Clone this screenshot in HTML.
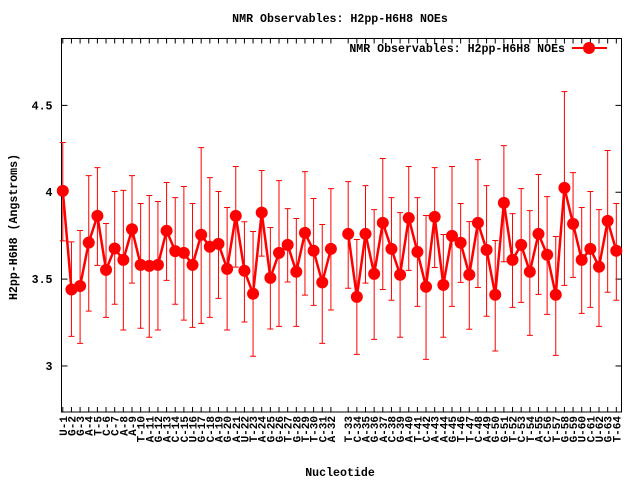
<!DOCTYPE html>
<html><head><meta charset="utf-8"><style>
html,body{margin:0;padding:0;background:#fff;}
svg text{font-family:"Liberation Mono",monospace;font-weight:bold;font-size:11.6px;fill:#000;}
</style></head><body>
<svg id="chart" width="640" height="480" xmlns="http://www.w3.org/2000/svg">
<rect x="0" y="0" width="640" height="480" fill="#fff"/>
<text x="340" y="22" text-anchor="middle">NMR Observables: H2pp-H6H8 NOEs</text>
<text x="340" y="476" text-anchor="middle">Nucleotide</text>
<text x="17" y="227" text-anchor="middle" transform="rotate(-90 17 227)">H2pp-H6H8 (Angstroms)</text>
<g id="axes"></g>
<g id="series"></g>
<g>
<text x="565" y="52" text-anchor="end">NMR Observables: H2pp-H6H8 NOEs</text>
<line x1="572" y1="48" x2="607" y2="48" stroke="#ff0000" stroke-width="2"/>
<circle cx="589" cy="48" r="6" fill="#ff0000"/>
</g>
</svg>
<script>
const labels=["U-1","G-2","G-3","A-4","T-5","C-6","C-7","A-8","A-9","T-10","A-11","G-12","A-13","C-14","C-15","U-16","G-17","C-18","A-19","G-20","A-21","U-22","T-23","A-24","G-25","G-26","T-27","G-28","T-29","T-30","C-31","A-32",
"T-33","C-34","A-35","G-36","A-37","C-38","G-39","A-40","T-41","C-42","A-43","A-44","G-45","T-46","T-47","C-48","A-49","G-50","G-51","T-52","C-53","T-54","A-55","C-56","T-57","G-58","G-59","U-60","C-61","U-62","G-63","T-64"];
const values=[4.008,3.44,3.46,3.71,3.864,3.553,3.676,3.611,3.787,3.582,3.576,3.582,3.778,3.661,3.651,3.582,3.755,3.686,3.703,3.559,3.864,3.548,3.416,3.883,3.507,3.651,3.697,3.542,3.766,3.663,3.481,3.674,
3.76,3.398,3.76,3.53,3.824,3.674,3.525,3.852,3.657,3.456,3.858,3.467,3.749,3.709,3.525,3.824,3.668,3.41,3.939,3.611,3.697,3.542,3.76,3.64,3.41,4.025,3.818,3.611,3.674,3.571,3.835,3.663];
const errTop=[4.286,3.714,3.78,4.096,4.142,3.82,4.004,4.011,4.096,3.935,3.981,3.947,4.056,3.969,4.033,3.935,4.257,4.084,4.004,3.912,4.148,3.83,3.774,4.125,3.797,4.067,3.906,3.849,4.119,3.964,3.814,4.021,
4.061,3.728,4.038,3.9,4.194,3.969,3.883,4.148,3.969,3.866,4.142,3.757,4.148,3.935,3.831,4.188,4.038,3.722,4.268,3.877,4.021,3.894,4.102,3.975,3.745,4.579,4.113,3.912,4.004,3.9,4.24,3.935];
const errBot=[3.72,3.17,3.13,3.316,3.579,3.28,3.355,3.207,3.477,3.217,3.165,3.207,3.493,3.355,3.264,3.222,3.245,3.28,3.389,3.207,3.569,3.253,3.056,3.632,3.213,3.228,3.483,3.228,3.408,3.349,3.13,3.322,
3.447,3.067,3.477,3.153,3.44,3.378,3.165,3.55,3.343,3.038,3.567,3.165,3.343,3.481,3.211,3.452,3.286,3.086,3.6,3.337,3.366,3.176,3.412,3.297,3.061,3.464,3.51,3.303,3.337,3.228,3.424,3.378];
const yTicks=[3,3.5,4,4.5];
const yTickLabels=["3","3.5","4","4.5"];

const L=61.5,R=621.5,T=38.5,B=412;
const xMin=0.85,xMax=65.6,yMin=2.735,yMax=4.885;
function xPos(i){const v=i<32?i+1:i+2;return L+(v-xMin)/(xMax-xMin)*(R-L);}
function yPos(v){return B-(v-yMin)/(yMax-yMin)*(B-T);}
const NS="http://www.w3.org/2000/svg";
function mk(tag,attrs,parent){const e=document.createElementNS(NS,tag);for(const k in attrs)e.setAttribute(k,attrs[k]);parent.appendChild(e);return e;}
const axes=document.getElementById('axes');
const frame=mk('rect',{x:L,y:T,width:R-L,height:B-T,fill:'none',stroke:'#000','stroke-width':1},axes);


yTicks.forEach((t,k)=>{
  const y=yPos(t);
  mk('line',{x1:L,y1:y,x2:L+6,y2:y,stroke:'#000'},axes);
  mk('line',{x1:R,y1:y,x2:R-6,y2:y,stroke:'#000'},axes);
  const tx=mk('text',{x:L-9,y:y+4,'text-anchor':'end'},axes);
  tx.textContent=yTickLabels[k];
  
  
});
labels.forEach((lab,i)=>{
  const x=xPos(i);
  mk('line',{x1:x,y1:B,x2:x,y2:B-5,stroke:'#000'},axes);
  mk('line',{x1:x,y1:T,x2:x,y2:T+5,stroke:'#000'},axes);
  const tx=mk('text',{x:x+4,y:B+4,'text-anchor':'end',transform:'rotate(-90 '+(x+4)+' '+(B+4)+')'},axes);
  tx.setAttribute('style','font-size:11px');
  tx.textContent=lab;
  
  
});
const g=document.getElementById('series');
values.forEach((v,i)=>{
  const x=xPos(i),y1=yPos(errTop[i]),y2=yPos(errBot[i]);
  const eb=mk('path',{d:`M${x},${y1}V${y2}M${x-3},${y1}H${x+3}M${x-3},${y2}H${x+3}`,stroke:'#ff0000','stroke-width':1,fill:'none'},g);
  
  
});
function seg(a,b){let d='';for(let i=a;i<=b;i++)d+=(i===a?'M':'L')+xPos(i)+','+yPos(values[i]);return d;}
const l1=mk('path',{d:seg(0,31),stroke:'#ff0000','stroke-width':2.5,fill:'none'},g);


const l2=mk('path',{d:seg(32,values.length-1),stroke:'#ff0000','stroke-width':2.5,fill:'none'},g);


values.forEach((v,i)=>{
  const c=mk('circle',{cx:xPos(i),cy:yPos(v),r:6,fill:'#ff0000'},g);
  
  
});
</script>
</body></html>
